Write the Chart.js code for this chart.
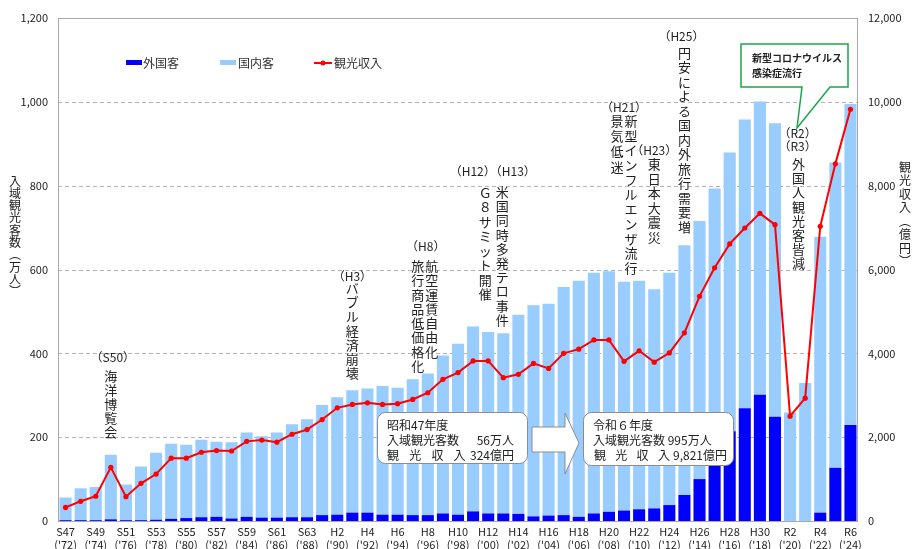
<!DOCTYPE html>
<html>
<head>
<meta charset="utf-8">
<script src="https://cdn.jsdelivr.net/npm/chart.js@4/dist/chart.umd.min.js"></script>
<style>
  html, body { margin: 0; padding: 0; background: #fff; }
  #wrap { width: 914px; height: 549px; }
</style>
</head>
<body>
<div id="wrap"><canvas id="chart" width="914" height="549"></canvas></div>
<script>
// categories (fiscal years) and the western-year second line
var ERA = ["S47","S48","S49","S50","S51","S52","S53","S54","S55","S56","S57","S58","S59","S60","S61","S62","S63",
  "H1","H2","H3","H4","H5","H6","H7","H8","H9","H10","H11","H12","H13","H14","H15","H16","H17","H18","H19","H20",
  "H21","H22","H23","H24","H25","H26","H27","H28","H29","H30","R1","R2","R3","R4","R5","R6"];
var YEAR = ["72","73","74","75","76","77","78","79","80","81","82","83","84","85","86","87","88",
  "89","90","91","92","93","94","95","96","97","98","99","00","01","02","03","04","05","06","07","08",
  "09","10","11","12","13","14","15","16","17","18","19","20","21","22","23","24"];

// 外国客 (万人)
var FOREIGN = [2,2,2,4,2,2,3,5,7,9,10,6,10,8,8,9,9,
  14,15,20,20,15,15,14,14,18,15,23,18,18,17,11,13,14,10,18,22,
  25,28,30,38,62,100,160,214,269,301,249,0,0,20,127,229];
// 国内客 (万人)
var DOMESTIC = [54,76,79,154,85,128,160,179,175,185,179,182,201,194,203,222,234,
  263,280,292,296,307,303,324,338,377,408,441,433,430,475,504,505,544,563,574,574,
  546,545,523,554,596,616,633,665,689,700,700,259,329,658,728,766];
// 観光収入 (億円)
var REVENUE = [324,470,590,1280,580,900,1120,1500,1500,1640,1680,1670,1900,1930,1880,2070,2180,
  2420,2700,2780,2820,2780,2800,2900,3060,3380,3540,3820,3820,3420,3500,3760,3640,4000,4100,4320,4320,
  3810,4060,3790,4010,4490,5360,6040,6610,6990,7340,7070,2500,2930,7030,8520,9821];

var FONT = "'Noto Sans CJK JP', 'Noto Sans', sans-serif";
var TXT = "#222";

// vertical text, one char under the other
function drawVertical(ctx, text, x, y, step) {
  var chars = Array.from(text);
  for (var i = 0; i < chars.length; i++) {
    ctx.fillText(chars[i], x, y + i * step);
  }
}

var extras = {
  id: "extras",
  beforeDatasetsDraw: function (chart) {
    var ctx = chart.ctx, a = chart.chartArea, y = chart.scales.y;
    ctx.save();
    ctx.strokeStyle = "#b4b4b4";
    ctx.lineWidth = 1;
    ctx.setLineDash([4, 3]);
    for (var v = 200; v < 1200; v += 200) {
      var py = Math.round(y.getPixelForValue(v)) + 0.5;
      ctx.beginPath(); ctx.moveTo(a.left, py); ctx.lineTo(a.right, py); ctx.stroke();
    }
    ctx.restore();
  },
  afterDraw: function (chart) {
    var ctx = chart.ctx, a = chart.chartArea, x = chart.scales.x;
    ctx.save();
    // frame
    ctx.strokeStyle = "#a8a8a8";
    ctx.lineWidth = 1;
    ctx.strokeRect(Math.round(a.left) + 0.5, Math.round(a.top) + 0.5,
      Math.round(a.right - a.left) - 1, Math.round(a.bottom - a.top));

    // axis titles
    ctx.fillStyle = TXT;
    ctx.textAlign = "center";
    ctx.textBaseline = "middle";
    ctx.font = "12px " + FONT;
    drawVertical(ctx, "入域観光客数︵万人︶", 15, 181, 12.3);
    drawVertical(ctx, "観光収入︵億円︶", 905, 167, 13.5);

    // legend
    ctx.textAlign = "left";
    ctx.font = "12px " + FONT;
    ctx.fillStyle = "#0000ff"; ctx.fillRect(126, 60, 16, 5);
    ctx.fillStyle = "#99ccff"; ctx.fillRect(220, 60, 16, 5);
    ctx.strokeStyle = "#ff0000"; ctx.lineWidth = 2;
    ctx.beginPath(); ctx.moveTo(314, 63); ctx.lineTo(332, 63); ctx.stroke();
    ctx.fillStyle = "#ff0000";
    ctx.beginPath(); ctx.arc(323, 63, 2.5, 0, Math.PI * 2); ctx.fill();
    ctx.fillStyle = "#333";
    ctx.fillText("外国客", 143, 63);
    ctx.fillText("国内客", 238, 63);
    ctx.fillText("観光収入", 334, 63);

    // event notes
    ctx.fillStyle = TXT;
    ctx.textAlign = "center";
    ctx.font = "12px " + FONT;
    var cx = function (i) { return x.getPixelForValue(i); };
    ctx.fillText("（S50）", cx(3) + 2, 357);
    ctx.fillText("（H3）", cx(19), 276);
    ctx.fillText("（H8）", cx(24) - 2, 246);
    ctx.fillText("（H12）（H13）", (cx(28) + cx(29)) / 2 - 3, 171);
    ctx.fillText("（H21）", cx(37), 107);
    ctx.fillText("（H23）", cx(39), 150);
    ctx.fillText("（H25）", cx(41) - 3, 36);
    ctx.fillText("（R2）", (cx(48) + cx(49)) / 2, 133);
    ctx.fillText("（R3）", (cx(48) + cx(49)) / 2, 146);

    ctx.font = "13px " + FONT;
    drawVertical(ctx, "海洋博覧会", cx(3), 376, 14);
    drawVertical(ctx, "バブル経済崩壊", cx(19), 288, 14.2);
    drawVertical(ctx, "航空運賃自由化", cx(24) + 4, 266, 14.3);
    drawVertical(ctx, "旅行商品低価格化", cx(24) - 10, 266, 14.3);
    drawVertical(ctx, "Ｇ８サミット開催", cx(28) - 3, 193, 14.5);
    drawVertical(ctx, "米国同時多発テロ事件", cx(29) - 1, 192, 14.2);
    drawVertical(ctx, "新型インフルエンザ流行", cx(37) + 7, 121, 14.7);
    drawVertical(ctx, "景気低迷", cx(37) - 7, 121, 15.2);
    drawVertical(ctx, "東日本大震災", cx(39), 164, 14.6);
    drawVertical(ctx, "円安による国内外旅行需要増", cx(41), 53, 14.5);
    drawVertical(ctx, "外国人観光客皆減", (cx(48) + cx(49)) / 2 + 1, 164, 14.2);

    // green callout
    ctx.strokeStyle = "#1aa64a";
    ctx.lineWidth = 1.5;
    ctx.fillStyle = "#fff";
    ctx.beginPath();
    ctx.moveTo(741, 44); ctx.lineTo(848, 44); ctx.lineTo(848, 87);
    ctx.lineTo(830, 87); ctx.lineTo(797, 128); ctx.lineTo(802, 87);
    ctx.lineTo(741, 87); ctx.closePath();
    ctx.fill(); ctx.stroke();
    ctx.fillStyle = TXT;
    ctx.textAlign = "left";
    ctx.font = "bold 10px " + FONT;
    ctx.fillText("新型コロナウイルス", 752, 58);
    ctx.fillText("感染症流行", 752, 73);

    // comparison boxes
    function box(x0, y0, w, h) {
      ctx.beginPath();
      ctx.roundRect(x0 + 0.5, y0 + 0.5, w, h, 8);
      ctx.fillStyle = "#fff"; ctx.fill();
      ctx.strokeStyle = "#8c8c8c"; ctx.lineWidth = 1; ctx.stroke();
    }
    box(377, 412, 150, 51);
    box(583, 412, 150, 53);

    // arrow
    ctx.beginPath();
    ctx.moveTo(532, 427); ctx.lineTo(565, 427); ctx.lineTo(565, 413);
    ctx.lineTo(579, 443); ctx.lineTo(565, 474); ctx.lineTo(565, 452);
    ctx.lineTo(532, 452); ctx.closePath();
    ctx.fillStyle = "#fff"; ctx.fill();
    ctx.strokeStyle = "#8c8c8c"; ctx.stroke();

    ctx.fillStyle = TXT;
    ctx.font = "12px " + FONT;
    ctx.textAlign = "left";
    ctx.fillText("昭和47年度", 387, 425);
    ctx.fillText("入域観光客数", 387, 440);
    ["観", "光", "収", "入"].forEach(function (c, i) { ctx.fillText(c, 387 + i * 22.2, 455); });
    ctx.textAlign = "right";
    ctx.fillText("56万人", 514, 440);
    ctx.fillText("324億円", 514, 455);

    ctx.textAlign = "left";
    ctx.fillText("令和６年度", 593, 425);
    ctx.fillText("入域観光客数 995万人", 593, 440);
    ["観", "光", "収", "入"].forEach(function (c, i) { ctx.fillText(c, 594 + i * 21.3, 455); });
    ctx.fillText("9,821億円", 673, 455);
    ctx.restore();
  }
};

var labels = ERA.map(function (e, i) { return [e, "('" + YEAR[i] + ")"]; });

new Chart(document.getElementById("chart"), {
  type: "bar",
  data: {
    labels: labels,
    datasets: [
      { label: "観光収入", type: "line", data: REVENUE, yAxisID: "y1", order: 0,
        borderColor: "#ff0000", backgroundColor: "#ff0000", borderWidth: 2,
        pointRadius: 2.6, pointBackgroundColor: "#ff0000", pointBorderWidth: 0, tension: 0 },
      { label: "外国客", data: FOREIGN, yAxisID: "y", stack: "v", order: 1,
        backgroundColor: "#0000ff", barPercentage: 0.8, categoryPercentage: 1 },
      { label: "国内客", data: DOMESTIC, yAxisID: "y", stack: "v", order: 1,
        backgroundColor: "#99ccff", barPercentage: 0.8, categoryPercentage: 1 }
    ]
  },
  options: {
    responsive: false,
    animation: false,
    layout: { padding: { top: 18, left: 0, right: 0, bottom: 0 } },
    plugins: { legend: { display: false }, tooltip: { enabled: false } },
    scales: {
      x: {
        stacked: true,
        grid: { display: false, drawTicks: false },
        border: { display: false },
        afterFit: function (s) { s.height = 28; },
        ticks: {
          autoSkip: false, maxRotation: 0, padding: 4, color: TXT,
          font: { family: FONT, size: 11, lineHeight: 1.2 },
          callback: function (v, i) { return i % 2 === 0 ? labels[i] : ""; }
        }
      },
      y: {
        stacked: true, min: 0, max: 1200,
        grid: { display: false, drawTicks: false },
        border: { display: false },
        afterFit: function (s) { s.width = 58; },
        ticks: { stepSize: 200, padding: 10, color: TXT, font: { family: FONT, size: 11 } }
      },
      y1: {
        position: "right", min: 0, max: 12000,
        grid: { display: false, drawTicks: false },
        border: { display: false },
        afterFit: function (s) { s.width = 56; },
        ticks: { stepSize: 2000, padding: 10, color: TXT, font: { family: FONT, size: 11 } }
      }
    }
  },
  plugins: [extras]
});
</script>
</body>
</html>
